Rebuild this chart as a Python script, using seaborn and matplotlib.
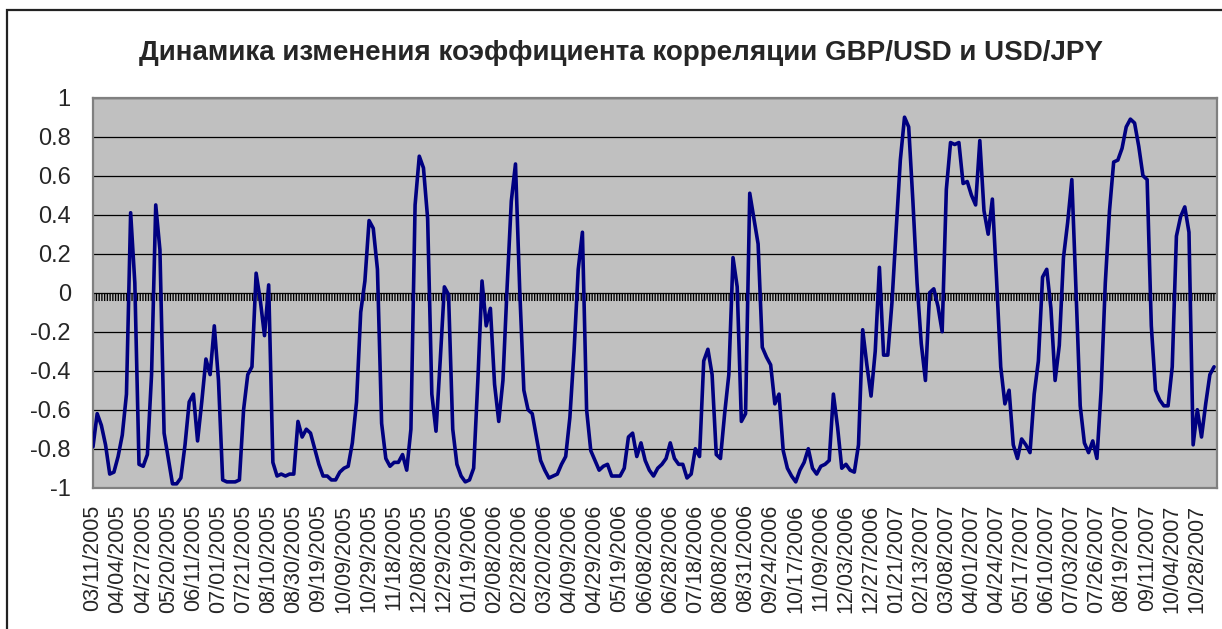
import numpy as np
import pandas as pd
import seaborn as sns
import matplotlib
matplotlib.use("Agg")
import matplotlib.pyplot as plt
from matplotlib.patches import Rectangle

# Chart data (one value every 1/6 of a label step)
title = "Динамика изменения коэффициента корреляции GBP/USD и USD/JPY"

date_labels = [
    "03/11/2005", "04/04/2005", "04/27/2005", "05/20/2005", "06/11/2005",
    "07/01/2005", "07/21/2005", "08/10/2005", "08/30/2005", "09/19/2005",
    "10/09/2005", "10/29/2005", "11/18/2005", "12/08/2005", "12/29/2005",
    "01/19/2006", "02/08/2006", "02/28/2006", "03/20/2006", "04/09/2006",
    "04/29/2006", "05/19/2006", "06/08/2006", "06/28/2006", "07/18/2006",
    "08/08/2006", "08/31/2006", "09/24/2006", "10/17/2006", "11/09/2006",
    "12/03/2006", "12/27/2006", "01/21/2007", "02/13/2007", "03/08/2007",
    "04/01/2007", "04/24/2007", "05/17/2007", "06/10/2007", "07/03/2007",
    "07/26/2007", "08/19/2007", "09/11/2007", "10/04/2007", "10/28/2007",
]
points_per_label = 6

corr = [
    -0.79, -0.62, -0.68, -0.78, -0.93, -0.92, -0.84, -0.73, -0.52, 0.41,
    0.05, -0.88, -0.89, -0.83, -0.42, 0.45, 0.22, -0.72, -0.85, -0.98,
    -0.98, -0.95, -0.78, -0.56, -0.52, -0.76, -0.56, -0.34, -0.42, -0.17,
    -0.45, -0.96, -0.97, -0.97, -0.97, -0.96, -0.60, -0.42, -0.38, 0.10,
    -0.04, -0.22, 0.04, -0.87, -0.94, -0.93, -0.94, -0.93, -0.93, -0.66,
    -0.74, -0.70, -0.72, -0.80, -0.88, -0.94, -0.94, -0.96, -0.96, -0.92,
    -0.90, -0.89, -0.77, -0.56, -0.10, 0.06, 0.37, 0.33, 0.12, -0.67,
    -0.85, -0.89, -0.87, -0.87, -0.83, -0.91, -0.70, 0.45, 0.70, 0.64,
    0.38, -0.52, -0.71, -0.35, 0.03, -0.01, -0.70, -0.88, -0.94, -0.97,
    -0.96, -0.90, -0.45, 0.06, -0.17, -0.08, -0.47, -0.66, -0.45, 0.03,
    0.47, 0.66, 0.02, -0.50, -0.60, -0.62, -0.74, -0.86, -0.91, -0.95,
    -0.94, -0.93, -0.88, -0.84, -0.64, -0.30, 0.12, 0.31, -0.60, -0.81,
    -0.86, -0.91, -0.89, -0.88, -0.94, -0.94, -0.94, -0.90, -0.74, -0.72,
    -0.84, -0.77, -0.86, -0.91, -0.94, -0.90, -0.88, -0.85, -0.77, -0.85,
    -0.88, -0.88, -0.95, -0.93, -0.80, -0.84, -0.35, -0.29, -0.42, -0.83,
    -0.85, -0.62, -0.42, 0.18, 0.03, -0.66, -0.62, 0.51, 0.38, 0.25,
    -0.28, -0.33, -0.37, -0.57, -0.52, -0.81, -0.90, -0.94, -0.97, -0.91,
    -0.87, -0.80, -0.90, -0.93, -0.89, -0.88, -0.86, -0.52, -0.69, -0.90,
    -0.88, -0.91, -0.92, -0.78, -0.19, -0.37, -0.53, -0.30, 0.13, -0.32,
    -0.32, -0.05, 0.32, 0.68, 0.90, 0.85, 0.47, 0.05, -0.26, -0.45,
    0.00, 0.02, -0.07, -0.20, 0.53, 0.77, 0.76, 0.77, 0.56, 0.57,
    0.50, 0.45, 0.78, 0.42, 0.30, 0.48, 0.07, -0.38, -0.57, -0.50,
    -0.78, -0.85, -0.75, -0.78, -0.82, -0.52, -0.35, 0.08, 0.12, -0.08,
    -0.45, -0.27, 0.18, 0.36, 0.58, 0.01, -0.58, -0.77, -0.82, -0.76,
    -0.85, -0.50, 0.05, 0.42, 0.67, 0.68, 0.74, 0.85, 0.89, 0.87,
    0.75, 0.60, 0.58, -0.17, -0.50, -0.55, -0.58, -0.58, -0.38, 0.29,
    0.39, 0.44, 0.31, -0.78, -0.60, -0.74, -0.57, -0.42, -0.38,
]

y_ticks = [1, 0.8, 0.6, 0.4, 0.2, 0, -0.2, -0.4, -0.6, -0.8, -1]

df = pd.DataFrame({"idx": np.arange(len(corr)), "corr": corr})

sns.set_style("white")
plt.rcParams["font.family"] = ["Liberation Sans", "DejaVu Sans"]

fig = plt.figure(figsize=(12.22, 6.29), dpi=100)
ax = fig.add_axes([0.0761, 0.2246, 0.9198, 0.6201])
ax.set_facecolor("#C0C0C0")

# gridlines
for v in y_ticks:
    ax.axhline(v, color="black", lw=0.9, zorder=1)

# category axis crossing at zero, drawn as a dense hatched band
ax.axhline(-0.02, color="black", lw=5.8, linestyle=(0, (0.17, 0.17)), zorder=2)

sns.lineplot(data=df, x="idx", y="corr", ax=ax, color="#000080", linewidth=2.6, zorder=3)

ax.set_xlim(0, len(corr) - 0.3)
ax.set_ylim(-1, 1)
ax.set_xlabel("")
ax.set_ylabel("")

ax.set_yticks(y_ticks)
ax.set_yticklabels([f"{v:g}" for v in y_ticks], fontsize=17)
ax.tick_params(axis="y", direction="out", length=6, width=1, color="black", pad=10)

ax.set_xticks(np.arange(len(date_labels)) * points_per_label)
ax.set_xticklabels(date_labels, rotation=90, fontsize=15.5)
ax.tick_params(axis="x", length=0, pad=12)

for s in ax.spines.values():
    s.set_color("#808080")
    s.set_linewidth(1.6)

fig.text(0.508, 0.915, title, ha="center", va="center", fontsize=20, fontweight="bold")

# chart area border (only top and left visible in the crop)
fig.add_artist(Rectangle((7 / 1222, -0.2), 1.2, 1.2 - 10 / 629,
                         transform=fig.transFigure, fill=False,
                         edgecolor="#222222", lw=1.6))

fig.savefig("out.png", dpi=100)
